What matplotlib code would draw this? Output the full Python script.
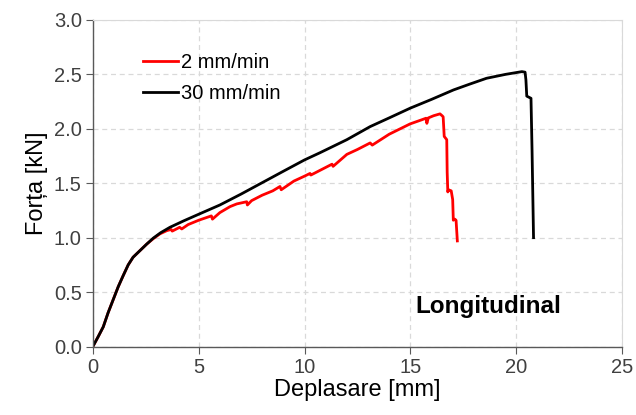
import matplotlib
matplotlib.use("Agg")
import matplotlib.pyplot as plt

plt.rcParams['font.family'] = ['Liberation Sans', 'DejaVu Sans']

# 2 mm/min curve (displacement mm, force kN)
x_2 = [0, 0.25, 0.49, 0.72, 0.96, 1.2, 1.43, 1.67, 1.9, 2.22, 2.54, 2.85, 3.17, 3.5, 3.7, 3.75, 4.1,
       4.2, 4.5, 5.0, 5.3, 5.6, 5.65, 6.0, 6.48, 6.8, 7.27, 7.3, 7.5, 8.0, 8.5, 8.84, 8.9, 9.5,
       10.0, 10.26, 10.3, 11.05, 11.3, 11.35, 12.0, 12.5, 13.1, 13.2, 14.0, 14.99, 15.5, 15.74,
       15.78, 15.85, 16.1, 16.4, 16.5, 16.55, 16.6, 16.72, 16.74, 16.77, 16.8, 16.93, 17.0, 17.03,
       17.1, 17.16, 17.22]
y_2 = [0, 0.09, 0.18, 0.31, 0.43, 0.55, 0.65, 0.75, 0.82, 0.88, 0.94, 0.99, 1.035, 1.065, 1.075, 1.06,
       1.095, 1.08, 1.12, 1.16, 1.18, 1.2, 1.17, 1.23, 1.285, 1.31, 1.33, 1.30, 1.34, 1.39, 1.43, 1.47,
       1.44, 1.52, 1.565, 1.59, 1.575, 1.65, 1.675, 1.655, 1.765, 1.81, 1.87, 1.85, 1.95, 2.045, 2.08,
       2.097, 2.05, 2.1, 2.12, 2.137, 2.12, 2.11, 1.93, 1.9, 1.6, 1.42, 1.44, 1.43, 1.35, 1.16, 1.17,
       1.16, 0.97]

# 30 mm/min curve
x_30 = [0, 0.25, 0.49, 0.72, 0.96, 1.2, 1.43, 1.67, 1.9, 2.22, 2.54, 2.85, 3.2, 3.64, 4.3, 5.0, 6.0,
        7.0, 8.0, 9.0, 10.0, 10.73, 12.0, 13.1, 14.0, 15.0, 16.0, 17.04, 17.8, 18.6, 19.5,
        20.27, 20.42, 20.46, 20.5, 20.7, 20.75, 20.82]
y_30 = [0, 0.09, 0.18, 0.31, 0.43, 0.55, 0.65, 0.75, 0.82, 0.88, 0.94, 0.995, 1.045, 1.095, 1.155,
        1.215, 1.30, 1.40, 1.505, 1.61, 1.714, 1.78, 1.90, 2.02, 2.1, 2.19, 2.27, 2.357, 2.41, 2.464,
        2.5, 2.525, 2.52, 2.45, 2.30, 2.28, 1.8, 1.0]

fig = plt.figure(figsize=(6.36, 4.15), dpi=100)
ax = fig.add_axes([0.146, 0.165, 0.832, 0.787])

ax.plot(x_2, y_2, color='#ff0000', lw=2.0, label='2 mm/min')
ax.plot(x_30, y_30, color='black', lw=2.0, label='30 mm/min')

ax.set_xlim(0, 25)
ax.set_ylim(0, 3.0)
ax.set_xticks(range(0, 26, 5))
ax.set_yticks([0, 0.5, 1.0, 1.5, 2.0, 2.5, 3.0])
ax.set_yticklabels(['0.0', '0.5', '1.0', '1.5', '2.0', '2.5', '3.0'])

ax.grid(True, ls=(0, (4, 3)), color='#d9d9d9', lw=0.9)
ax.set_axisbelow(True)
for s in ['top', 'right']:
    ax.spines[s].set_color('#d9d9d9')
for s in ['left', 'bottom']:
    ax.spines[s].set_color('#595959')
    ax.spines[s].set_linewidth(1.0)
ax.tick_params(axis='both', colors='#595959', labelsize=14.5, length=5, direction='out', pad=3)
ax.tick_params(axis='both', labelcolor='#404040')

ax.set_xlabel('Deplasare [mm]', fontsize=17, color='black', labelpad=2)
ax.set_ylabel('Forța [kN]', fontsize=17, color='black', labelpad=4)

ax.legend(loc='upper left', bbox_to_anchor=(0.06, 0.955), frameon=False, fontsize=14.5,
          handlelength=1.75, handletextpad=0.15, labelspacing=0.62)

ax.text(18.7, 0.31, 'Longitudinal', fontsize=17.5, fontweight='bold', ha='center', va='baseline')

fig.savefig('out.png', dpi=100)
